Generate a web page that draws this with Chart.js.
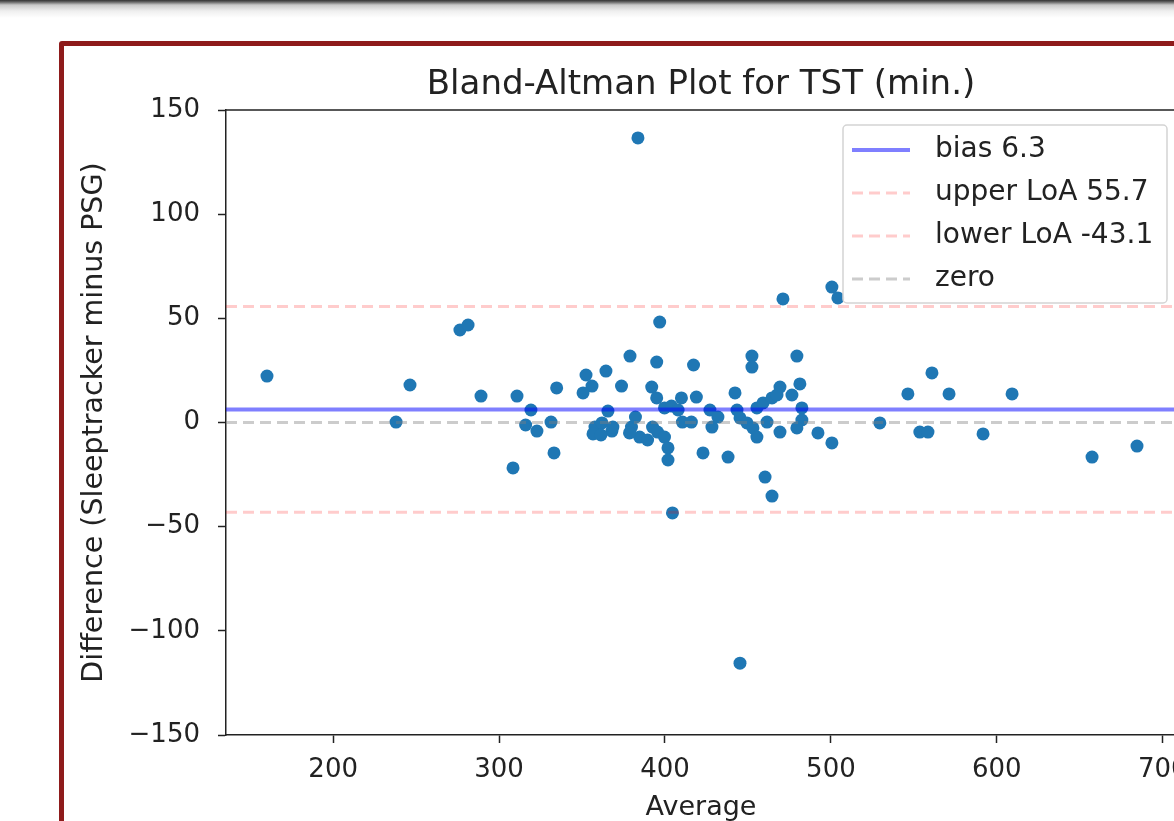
<!DOCTYPE html>
<html>
<head>
<meta charset="utf-8">
<title>Bland-Altman Plot for TST</title>
<script src="https://cdn.jsdelivr.net/npm/chart.js@4.4.1/dist/chart.umd.min.js"></script>
<style>
  html, body { margin: 0; padding: 0; width: 1174px; height: 821px; overflow: hidden; background: #fff; }
  .topbar {
    position: absolute; left: 0; top: 0; width: 1174px; height: 18px;
    background: linear-gradient(to bottom, #333 0px, #666 2px, #c9c9c9 5px, #efefef 11px, #fff 18px);
  }
  .frame {
    position: absolute; left: 59px; top: 41px; width: 1250px; height: 900px;
    border: 5px solid #8e1b1b; border-radius: 3px; background: #fff;
  }
  .wrap { position: absolute; left: 64px; top: 46px; width: 1200px; height: 800px; }
</style>
</head>
<body>
<div class="topbar"></div>
<div class="frame"></div>
<div class="wrap"><canvas id="baPlot" width="1200" height="800"></canvas></div>
<script>
// averages (x) and differences (y)
const avgValues = [
  160.1, 237.9, 246.3, 276.4, 281.3, 289.1, 310.8, 308.4, 316.0, 319.2,
  322.8, 331.3, 333.1, 334.7, 352.4, 356.0, 350.6, 364.4, 373.8, 378.9,
  365.6, 357.8, 356.6, 362.0, 368.0, 361.4, 368.6, 379.8, 382.2, 384.7,
  389.5, 392.5, 395.5, 399.7, 401.8, 401.8, 395.0, 396.8, 392.0, 395.0,
  399.7, 403.9, 410.5, 415.9, 409.9, 418.9, 417.2, 422.9, 427.1, 428.3,
  431.9, 438.0, 442.2, 443.4, 445.2, 449.4, 452.4, 452.4, 455.4, 459.1,
  464.5, 469.3, 467.5, 476.5, 481.3, 479.5, 482.5, 482.5, 479.5, 453.0,
  455.4, 461.5, 469.3, 492.2, 500.6, 460.3, 464.5, 471.1, 500.6, 504.2,
  404.5, 383.7, 445.2, 529.5, 546.4, 553.6, 558.5, 560.9, 571.2, 591.7,
  609.2, 657.4, 684.5, 407.9, 378.6
];
const diffValues = [
  22.3, 0.2, 18.0, 44.4, 46.8, 12.7, 12.7, -21.8, -1.2, 6.0,
  -4.1, 0.2, -14.6, 16.6, 22.8, 17.5, 14.2, 24.7, 17.5, 31.9,
  5.5, -2.2, -5.5, -0.2, -4.1, -6.0, -2.2, -2.2, 2.6, -7.0,
  -8.4, -2.2, -4.6, -7.0, -12.2, -18.0, 29.0, 48.2, 17.0, 11.8,
  7.0, 7.9, 0.2, 0.2, 11.8, 12.2, 27.6, -14.6, 6.0, -2.2,
  2.6, -16.6, 14.2, 6.0, 2.2, -0.2, 31.9, 26.6, 7.0, 9.4,
  11.8, 17.0, 13.2, 13.2, 18.5, 31.9, 7.0, 1.2, -2.6, -2.6,
  -7.0, 0.2, -4.6, -5.0, -9.8, -26.2, -35.3, 59.3, 65.0, 59.8,
  -43.4, 136.6, -115.5, -0.2, 13.7, -4.6, -4.6, 23.8, 13.7, -5.5,
  13.7, -16.6, -11.3, 6.0, -5.0
];

const biasValue = 6.3;
const upperLoA = 55.7;
const lowerLoA = -43.1;

const xTicks = [200, 300, 400, 500, 600, 700];
const yTicks = [-150, -100, -50, 0, 50, 100, 150];
const xRange = [135.4, 708];
const yRange = [-150, 150];

const FONT = "'DejaVu Sans', sans-serif";
const TEXT = '#222';

const points = avgValues.map((x, i) => ({ x: x, y: diffValues[i] }));
const hline = (y) => [{ x: xRange[0], y: y }, { x: xRange[1], y: y }];

// top + right spines (matplotlib draws a full box round the axes)
const axesFrame = {
  id: 'axesFrame',
  afterDatasetsDraw(chart) {
    const { ctx, chartArea: a } = chart;
    ctx.save();
    ctx.strokeStyle = TEXT;
    ctx.lineWidth = 1.5;
    ctx.beginPath();
    ctx.moveTo(a.left, a.top);
    ctx.lineTo(a.right, a.top);
    ctx.lineTo(a.right, a.bottom);
    ctx.stroke();
    ctx.restore();
  }
};

// boxed legend inside the axes, upper right
const boxLegend = {
  id: 'boxLegend',
  afterDraw(chart) {
    const { ctx, chartArea: a } = chart;
    const items = chart.data.datasets.filter(d => d.inLegend);
    const w = 324, h = 178;
    const x = a.right - 9 - w, y = a.top + 15;
    ctx.save();
    ctx.beginPath();
    ctx.roundRect(x, y, w, h, 4);
    ctx.fillStyle = 'rgba(255,255,255,0.85)';
    ctx.fill();
    ctx.strokeStyle = '#d4d4d4';
    ctx.lineWidth = 1.5;
    ctx.stroke();

    items.forEach((d, i) => {
      const ry = y + 25 + i * 43;
      ctx.beginPath();
      ctx.setLineDash(d.borderDash || []);
      ctx.strokeStyle = d.borderColor;
      ctx.lineWidth = d.borderWidth;
      ctx.moveTo(x + 9, ry);
      ctx.lineTo(x + 67, ry);
      ctx.stroke();
      ctx.setLineDash([]);
      ctx.fillStyle = TEXT;
      ctx.font = '28px ' + FONT;
      ctx.textBaseline = 'middle';
      ctx.textAlign = 'left';
      ctx.fillText(d.label, x + 92, ry);
    });
    ctx.restore();
  }
};

const tickGrid = {
  display: true,
  drawOnChartArea: false,
  drawTicks: true,
  tickLength: 8,
  tickColor: TEXT,
  tickWidth: 1.5
};

new Chart(document.getElementById('baPlot'), {
  type: 'scatter',
  data: {
    datasets: [
      {
        type: 'line', label: 'bias ' + biasValue, inLegend: true, order: 0,
        data: hline(biasValue),
        borderColor: 'rgba(0, 0, 255, 0.5)', borderWidth: 4,
        pointRadius: 0, fill: false
      },
      {
        type: 'line', label: 'upper LoA ' + upperLoA, inLegend: true, order: 0,
        data: hline(upperLoA),
        borderColor: 'rgba(255, 0, 0, 0.2)', borderWidth: 3, borderDash: [11, 6],
        pointRadius: 0, fill: false
      },
      {
        type: 'line', label: 'lower LoA ' + lowerLoA, inLegend: true, order: 0,
        data: hline(lowerLoA),
        borderColor: 'rgba(255, 0, 0, 0.2)', borderWidth: 3, borderDash: [11, 6],
        pointRadius: 0, fill: false
      },
      {
        type: 'line', label: 'zero', inLegend: true, order: 0,
        data: hline(0),
        borderColor: 'rgba(128, 128, 128, 0.4)', borderWidth: 3, borderDash: [11, 6],
        pointRadius: 0, fill: false
      },
      {
        label: 'differences', order: 5,
        data: points,
        backgroundColor: '#1f77b4', borderWidth: 0,
        pointRadius: 6.5, pointHoverRadius: 6.5
      }
    ]
  },
  options: {
    responsive: false,
    animation: false,
    devicePixelRatio: 1,
    layout: { padding: { left: 0, right: 88, top: 0, bottom: 0 } },
    plugins: {
      legend: { display: false },
      tooltip: { enabled: false },
      title: {
        display: true,
        text: 'Bland-Altman Plot for TST (min.)',
        fullSize: false,
        color: TEXT,
        font: { family: FONT, size: 34, weight: 'normal' },
        padding: { top: 18.5, bottom: 4.7 }
      }
    },
    scales: {
      x: {
        type: 'linear',
        min: xRange[0], max: xRange[1],
        afterBuildTicks: (s) => { s.ticks = xTicks.map(v => ({ value: v })); },
        afterFit: (s) => { s.height = 111; },
        grid: tickGrid,
        border: { display: true, color: TEXT, width: 1.5 },
        ticks: {
          color: TEXT, padding: 12, maxRotation: 0, autoSkip: false,
          font: { family: FONT, size: 26 }
        },
        title: {
          display: true, text: 'Average', color: TEXT,
          font: { family: FONT, size: 27 },
          padding: { top: 0, bottom: 22 }
        }
      },
      y: {
        type: 'linear',
        min: yRange[0], max: yRange[1],
        afterBuildTicks: (s) => { s.ticks = yTicks.map(v => ({ value: v })); },
        afterFit: (s) => { s.width = 162; },
        grid: tickGrid,
        border: { display: true, color: TEXT, width: 1.5 },
        ticks: {
          color: TEXT, padding: 18, autoSkip: false,
          font: { family: FONT, size: 26 },
          callback: (v) => (v < 0 ? '\u2212' + Math.abs(v) : String(v))
        },
        title: {
          display: true, text: 'Difference (Sleeptracker minus PSG)', color: TEXT,
          font: { family: FONT, size: 28.5 },
          padding: { top: 13.5, bottom: 0 }
        }
      }
    }
  },
  plugins: [axesFrame, boxLegend]
});
</script>
</body>
</html>
